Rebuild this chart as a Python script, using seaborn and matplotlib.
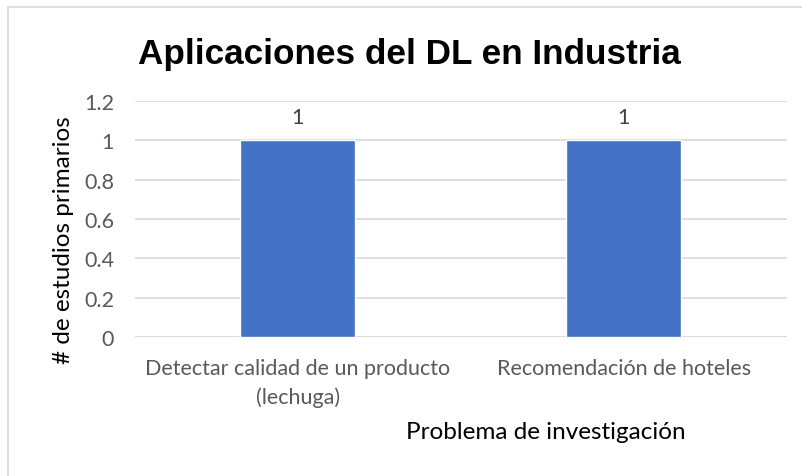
import matplotlib
matplotlib.use("Agg")
import matplotlib.pyplot as plt
import seaborn as sns
import pandas as pd
from matplotlib.patches import Rectangle

# data
categorias = ["Detectar calidad de un producto\n(lechuga)", "Recomendación de hoteles"]
estudios = [1, 1]
y_ticks = [0, 0.2, 0.4, 0.6, 0.8, 1, 1.2]
y_tick_labels = ["0", "0.2", "0.4", "0.6", "0.8", "1", "1.2"]

df = pd.DataFrame({"Problema": categorias, "Estudios": estudios})

sns.set_style("white")
plt.rcParams['font.family'] = ['Lato', 'DejaVu Sans']

fig = plt.figure(figsize=(8.03, 4.77), dpi=100)
ax = fig.add_axes([0.168, 0.291, 0.812, 0.495])

sns.barplot(data=df, x="Problema", y="Estudios", color="#4472C4", width=0.353,
            saturation=1, ax=ax, zorder=3)

ax.set_ylim(0, 1.2)
ax.set_yticks(y_ticks)
ax.set_yticklabels(y_tick_labels)
ax.yaxis.grid(True, color="#d9d9d9", linewidth=1.2, zorder=0)
ax.set_axisbelow(True)
for s in ["top", "right", "left", "bottom"]:
    ax.spines[s].set_visible(False)
ax.axhline(0, color="#d9d9d9", linewidth=1.2, zorder=1)
ax.tick_params(axis="both", length=0, labelsize=15.5, labelcolor="#595959")
ax.tick_params(axis="y", pad=15)
ax.tick_params(axis="x", pad=15)
for lbl in ax.get_xticklabels():
    lbl.set_multialignment("center")
    lbl.set_linespacing(1.5)

ax.bar_label(ax.containers[0], labels=[str(v) for v in estudios], padding=10,
             fontsize=15.5, color="#404040")

ax.set_ylabel("# de estudios primarios", fontsize=17.5, color="black")
ax.yaxis.set_label_coords(-0.11, 0.415)
ax.set_xlabel("Problema de investigación", fontsize=17.5, color="black")
ax.xaxis.set_label_coords(0.63, -0.398)
ax.xaxis.label.set_va("center")
ax.yaxis.label.set_va("center")

fig.text(0.51, 1 - 64 / 477, "Aplicaciones del DL en Industria", ha="center", va="baseline",
         fontsize=25.3, fontweight="bold", family="Liberation Sans", color="black")

# chart area border
fig.patches.append(Rectangle((8 / 803, -0.05), 1.1, 1 - 8 / 477 + 0.05,
                             transform=fig.transFigure, fill=False,
                             edgecolor="#d9d9d9", linewidth=1.2))

fig.savefig("out.png", dpi=100)
